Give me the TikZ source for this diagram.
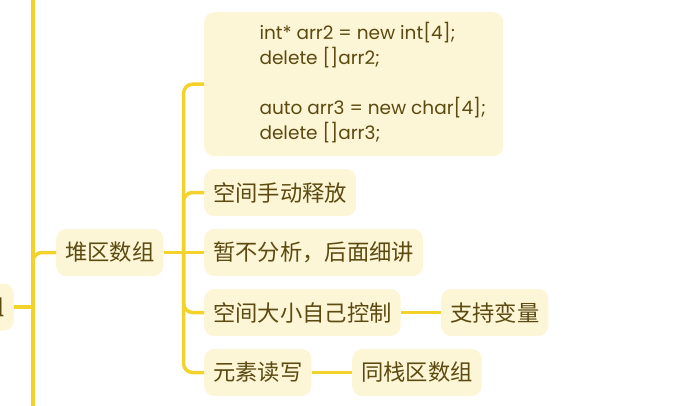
\documentclass[tikz,border=0pt]{standalone}
\usepackage{fontspec}
\setmainfont{Poppins}
\newfontfamily\cjk{Noto Sans CJK SC}
\usetikzlibrary{positioning}
\definecolor{mapline}{HTML}{F3D22B}
\definecolor{mapfill}{HTML}{FCF5D6}
\definecolor{maptext}{HTML}{5C4A10}
\tikzset{
  topic/.style={fill=mapfill, rounded corners=10pt, text=maptext, minimum height=47pt,
    inner xsep=9pt, font=\cjk\fontsize{22.3}{25}\selectfont},
  codebox/.style={topic, anchor=north west, minimum width=299pt, minimum height=144pt,
    inner xsep=8pt, font=\fontsize{18.5}{25}\selectfont},
  link/.style={draw=mapline, line width=3.5pt, rounded corners=9pt},
}

\begin{document}
\begin{tikzpicture}[x=1pt,y=-1pt]
\useasboundingbox (0,0) rectangle (690,405);

% topics
\node[topic, anchor=east] (root) at (14,307) {组};
\node[topic, anchor=west] (heap) at (56,252.5) {堆区数组};
\node[codebox] (code) at (204,12) {\begin{tabular}{@{\hspace{38pt}}l@{}}
int* arr2 = new int[4];\\
delete []arr2;\\
\\
auto arr3 = new char[4];\\
delete []arr3;
\end{tabular}};
\node[topic, anchor=west] (manual) at (204,192.5) {空间手动释放};
\node[topic, anchor=west] (later) at (204,252.5) {暂不分析，后面细讲};
\node[topic, anchor=west] (size) at (204,312.5) {空间大小自己控制};
\node[topic, anchor=west] (rw) at (204,372.5) {元素读写};
\node[topic, anchor=west] (var) at (441,312.5) {支持变量};
\node[topic, anchor=west] (same) at (352,372.5) {同栈区数组};

% connectors
\coordinate (trunktop) at (33,-5);
\coordinate (trunkbot) at (33,410);
\coordinate[right=20pt of heap.east] (fork);
\draw[link] (trunktop) -- (trunkbot);
\draw[link] (root.east) -- (root.east -| trunktop);
\draw[link] (heap.west) -| (root.east -| trunktop);
\draw[link] (heap.east) -- (fork);
\draw[link] (fork) |- (code.west);
\draw[link] (fork) |- (manual.west);
\draw[link] (fork) -- (later.west);
\draw[link] (fork) |- (size.west);
\draw[link] (fork) |- (rw.west);
\draw[link] (size) -- (var);
\draw[link] (rw) -- (same);
\end{tikzpicture}
\end{document}
